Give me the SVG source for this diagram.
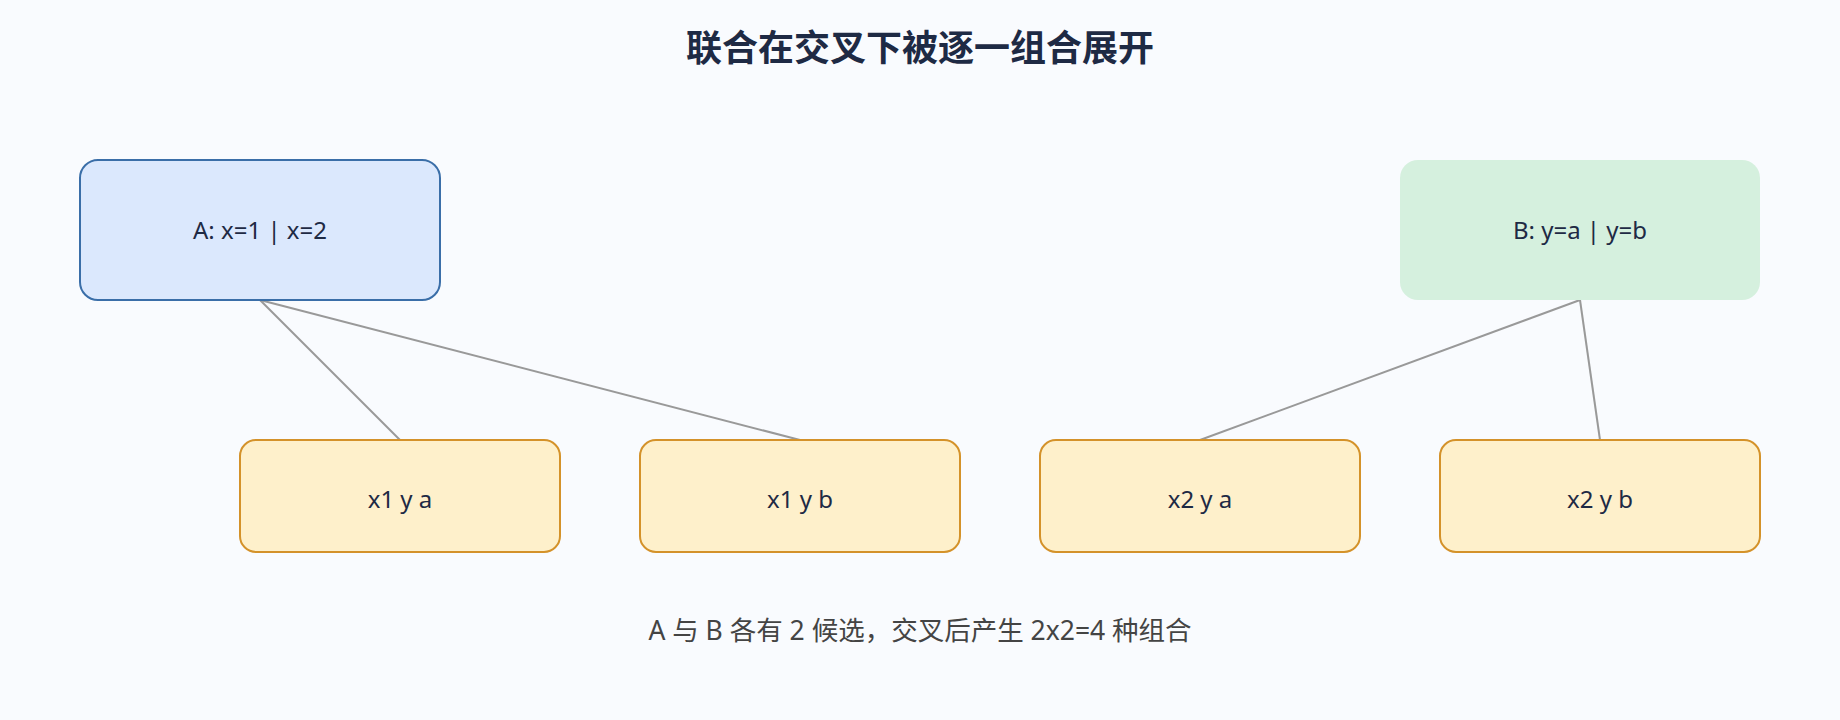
<svg xmlns="http://www.w3.org/2000/svg" width="1840" height="720" viewBox="0 0 1840 720">
<style>
text{font-family:"Noto Sans","Noto Sans CJK SC",sans-serif;}
.title{font-size:36px;font-weight:bold;fill:#1e2a44;}
.lbl{font-size:24px;fill:#1e2a44;}
.cap{font-size:26.5px;fill:#444444;}
.a{fill:#dbe8fd;stroke:#3a6ea8;stroke-width:2;}
.b{fill:#d5f0de;}
.leaf{fill:#fef0cb;stroke:#d4922a;stroke-width:2;}
.edge{stroke:#999999;stroke-width:2;fill:none;}
</style>
<rect x="0" y="0" width="1840" height="720" fill="#f9fbfe"/>
<text class="title" x="920" y="61" text-anchor="middle">联合在交叉下被逐一组合展开</text>
<g id="connectors">
<line class="edge" x1="260" y1="300" x2="400" y2="440"/>
<line class="edge" x1="260" y1="300" x2="800" y2="440"/>
<line class="edge" x1="1580" y1="300" x2="1200" y2="440"/>
<line class="edge" x1="1580" y1="300" x2="1600" y2="440"/>
</g>
<g id="nodeA">
<rect class="a" x="80" y="160" width="360" height="140" rx="18"/>
<text class="lbl" x="260" y="238.5" text-anchor="middle">A: x=1 | x=2</text>
</g>
<g id="nodeB">
<rect class="b" x="1400" y="160" width="360" height="140" rx="18"/>
<text class="lbl" x="1580" y="238.5" text-anchor="middle">B: y=a | y=b</text>
</g>
<g id="leaf1">
<rect class="leaf" x="240" y="440" width="320" height="112" rx="16"/>
<text class="lbl" x="400" y="508" text-anchor="middle">x1 y a</text>
</g>
<g id="leaf2">
<rect class="leaf" x="640" y="440" width="320" height="112" rx="16"/>
<text class="lbl" x="800" y="508" text-anchor="middle">x1 y b</text>
</g>
<g id="leaf3">
<rect class="leaf" x="1040" y="440" width="320" height="112" rx="16"/>
<text class="lbl" x="1200" y="508" text-anchor="middle">x2 y a</text>
</g>
<g id="leaf4">
<rect class="leaf" x="1440" y="440" width="320" height="112" rx="16"/>
<text class="lbl" x="1600" y="508" text-anchor="middle">x2 y b</text>
</g>
<text class="cap" x="920" y="640" text-anchor="middle">A 与 B 各有 2 候选，交叉后产生 2x2=4 种组合</text>
</svg>
